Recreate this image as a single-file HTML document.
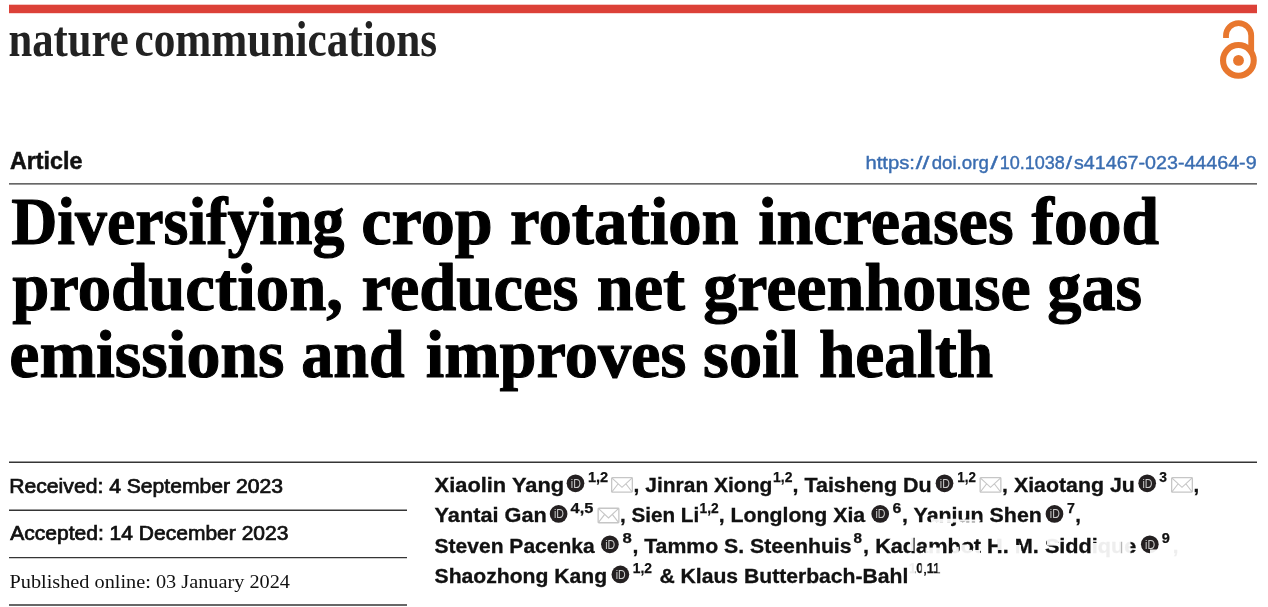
<!DOCTYPE html>
<html lang="en">
<head>
<meta charset="utf-8">
<title>Diversifying crop rotation increases food production, reduces net greenhouse gas emissions and improves soil health | Nature Communications</title>
<style>
html,body{margin:0;padding:0;background:#fff;}
body{width:1268px;height:607px;overflow:hidden;}
svg{display:block;}
.g{font-family:"Liberation Sans",sans-serif;font-size:10px;fill:#111;}
.logo{font-family:"Liberation Serif",serif;font-weight:bold;font-size:50px;fill:#222;}
.art{font-family:"Liberation Sans",sans-serif;font-weight:bold;font-size:23.5px;fill:#111;stroke:#111;stroke-width:.5;}
.doi{font-family:"Liberation Sans",sans-serif;font-size:19px;fill:#3a6db1;stroke:#3a6db1;stroke-width:.4;}
.title{font-family:"Liberation Serif",serif;font-weight:bold;font-size:68px;fill:#000;stroke:#000;stroke-width:1.1;stroke-linejoin:round;}
.meta{font-family:"Liberation Sans",sans-serif;font-size:19.3px;fill:#111;stroke:#111;stroke-width:.7;}
.pub{font-family:"Liberation Serif",serif;font-size:19px;fill:#111;}
.au{font-family:"Liberation Sans",sans-serif;font-weight:bold;font-size:20px;fill:#111;stroke:#111;stroke-width:.3;}
.sup{font-family:"Liberation Sans",sans-serif;font-weight:bold;font-size:14.5px;fill:#111;stroke:#111;stroke-width:.25;}
.rule{stroke:#353535;stroke-width:1.35;}
.id{font-family:"Liberation Sans",sans-serif;font-size:12px;fill:#cdcdcd;}
</style>
</head>
<body>
<svg width="1268" height="607" viewBox="0 0 1268 607">
<defs>
<g id="orcid"><circle cx="0" cy="0" r="8.85" fill="#242021"/><text class="id" x="-4.7" y="4.2" textLength="10" lengthAdjust="spacingAndGlyphs">iD</text></g>
<g id="env"><rect x="0.65" y="0.65" width="20.7" height="14.5" rx="0.8" fill="#fff" stroke="#c6c6c6" stroke-width="1.3"/><path d="M0.8 0.8 L11 10.3 L21.2 0.8 M0.8 15 L7 7 M21.2 15 L15 7" fill="none" stroke="#c6c6c6" stroke-width="1.15"/></g>
</defs>
<rect x="9" y="4.7" width="1248" height="8.5" fill="#dc4138"/>
<g fill="none" stroke="#e8772e">
<path d="M1226 38 V35.6 A12.6 12.6 0 0 1 1251.2 35.6 V52" stroke-width="5.8"/>
<circle cx="1238.4" cy="60.4" r="15.35" stroke-width="6.1"/>
<circle cx="1238.5" cy="60.4" r="5.4" fill="#e8772e" stroke="none"/>
</g>
<line class="rule" x1="9" y1="183.9" x2="1257" y2="183.9"/>
<line class="rule" x1="9" y1="462.2" x2="1257" y2="462.2"/>
<line class="rule" x1="9" y1="510.2" x2="407" y2="510.2"/>
<line class="rule" x1="9" y1="557.6" x2="407" y2="557.6"/>
<line class="rule" x1="9" y1="605" x2="407" y2="605"/>
<text class="g"><tspan class="logo" x="8.5" y="55.5" textLength="120.1" lengthAdjust="spacingAndGlyphs">nature</tspan> <tspan class="logo" x="134.5" y="55.5" textLength="302.7" lengthAdjust="spacingAndGlyphs">communications</tspan></text>
<text class="g"><tspan class="art" x="9.9" y="168.8" textLength="72.5" lengthAdjust="spacingAndGlyphs">Article</tspan></text>
<text class="g"><tspan class="doi" x="865.4" y="168.7" textLength="49.5" lengthAdjust="spacingAndGlyphs">https:</tspan><tspan class="doi" x="915.7" y="168.7" textLength="13.6" lengthAdjust="spacingAndGlyphs">//</tspan><tspan class="doi" x="931.7" y="168.7" textLength="57.1" lengthAdjust="spacingAndGlyphs">doi.org</tspan><tspan class="doi" x="990.4" y="168.7" textLength="7.4" lengthAdjust="spacingAndGlyphs">/</tspan><tspan class="doi" x="999.7" y="168.7" textLength="65.2" lengthAdjust="spacingAndGlyphs">10.1038</tspan><tspan class="doi" x="1065.7" y="168.7" textLength="6.4" lengthAdjust="spacingAndGlyphs">/</tspan><tspan class="doi" x="1074.0" y="168.7" textLength="182.6" lengthAdjust="spacingAndGlyphs">s41467-023-44464-9</tspan></text>
<text class="g"><tspan class="title" x="11.3" y="243.8" textLength="333.1" lengthAdjust="spacingAndGlyphs">Diversifying</tspan> <tspan class="title" x="361.3" y="243.8" textLength="131.4" lengthAdjust="spacingAndGlyphs">crop</tspan> <tspan class="title" x="510.0" y="243.8" textLength="228.7" lengthAdjust="spacingAndGlyphs">rotation</tspan> <tspan class="title" x="758.2" y="243.8" textLength="255.4" lengthAdjust="spacingAndGlyphs">increases</tspan> <tspan class="title" x="1031.5" y="243.8" textLength="127.6" lengthAdjust="spacingAndGlyphs">food</tspan> <tspan class="title" x="12.2" y="310.2" textLength="330.8" lengthAdjust="spacingAndGlyphs">production,</tspan> <tspan class="title" x="361.4" y="310.2" textLength="217.1" lengthAdjust="spacingAndGlyphs">reduces</tspan> <tspan class="title" x="596.8" y="310.2" textLength="88.3" lengthAdjust="spacingAndGlyphs">net</tspan> <tspan class="title" x="703.2" y="310.2" textLength="327.6" lengthAdjust="spacingAndGlyphs">greenhouse</tspan> <tspan class="title" x="1047.3" y="310.2" textLength="94.8" lengthAdjust="spacingAndGlyphs">gas</tspan> <tspan class="title" x="9.3" y="376.9" textLength="275.2" lengthAdjust="spacingAndGlyphs">emissions</tspan> <tspan class="title" x="301.3" y="376.9" textLength="103.3" lengthAdjust="spacingAndGlyphs">and</tspan> <tspan class="title" x="425.8" y="376.9" textLength="260.6" lengthAdjust="spacingAndGlyphs">improves</tspan> <tspan class="title" x="703.1" y="376.9" textLength="95.8" lengthAdjust="spacingAndGlyphs">soil</tspan> <tspan class="title" x="818.9" y="376.9" textLength="174.3" lengthAdjust="spacingAndGlyphs">health</tspan></text>
<text class="g"><tspan class="meta" x="9.3" y="492.6" textLength="273.7" lengthAdjust="spacingAndGlyphs">Received: 4 September 2023</tspan></text>
<text class="g"><tspan class="meta" x="10.3" y="539.5" textLength="278.1" lengthAdjust="spacingAndGlyphs">Accepted: 14 December 2023</tspan></text>
<text class="g"><tspan class="pub" x="9.5" y="587.7" textLength="280.5" lengthAdjust="spacingAndGlyphs">Published online: 03 January 2024</tspan></text>
<text class="g"><tspan class="au" x="434.6" y="491.6" textLength="129.5" lengthAdjust="spacingAndGlyphs">Xiaolin Yang</tspan><tspan class="sup" x="587.9" y="482.3" textLength="20.3" lengthAdjust="spacingAndGlyphs">1,2</tspan><tspan class="au" x="633.6" y="491.6" textLength="138.7" lengthAdjust="spacingAndGlyphs">, Jinran Xiong</tspan><tspan class="sup" x="773.0" y="482.3" textLength="19.4" lengthAdjust="spacingAndGlyphs">1,2</tspan><tspan class="au" x="792.5" y="491.6" textLength="139.2" lengthAdjust="spacingAndGlyphs">, Taisheng Du</tspan><tspan class="sup" x="957.3" y="482.3" textLength="18.6" lengthAdjust="spacingAndGlyphs">1,2</tspan><tspan class="au" x="1002.1" y="491.6" textLength="132.7" lengthAdjust="spacingAndGlyphs">, Xiaotang Ju</tspan><tspan class="sup" x="1159.2" y="482.3" textLength="7.7" lengthAdjust="spacingAndGlyphs">3</tspan><tspan class="au" x="1193.6" y="491.6" textLength="5.7" lengthAdjust="spacingAndGlyphs">,</tspan></text>
<text class="g"><tspan class="au" x="434.6" y="522.2" textLength="112.2" lengthAdjust="spacingAndGlyphs">Yantai Gan</tspan><tspan class="sup" x="570.6" y="512.9" textLength="22.7" lengthAdjust="spacingAndGlyphs">4,5</tspan><tspan class="au" x="620.0" y="522.2" textLength="79.2" lengthAdjust="spacingAndGlyphs">, Sien Li</tspan><tspan class="sup" x="699.6" y="512.9" textLength="19.2" lengthAdjust="spacingAndGlyphs">1,2</tspan><tspan class="au" x="718.7" y="522.2" textLength="146.5" lengthAdjust="spacingAndGlyphs">, Longlong Xia</tspan><tspan class="sup" x="892.4" y="512.9" textLength="8.8" lengthAdjust="spacingAndGlyphs">6</tspan><tspan class="au" x="902.1" y="522.2" textLength="139.8" lengthAdjust="spacingAndGlyphs">, Yanjun Shen</tspan><tspan class="sup" x="1067.0" y="512.9" textLength="7.9" lengthAdjust="spacingAndGlyphs">7</tspan><tspan class="au" x="1075.2" y="522.2" textLength="5.7" lengthAdjust="spacingAndGlyphs">,</tspan></text>
<text class="g"><tspan class="au" x="434.6" y="552.6" textLength="160.1" lengthAdjust="spacingAndGlyphs">Steven Pacenka</tspan><tspan class="sup" x="622.6" y="543.3" textLength="9.3" lengthAdjust="spacingAndGlyphs">8</tspan><tspan class="au" x="632.4" y="552.6" textLength="219.2" lengthAdjust="spacingAndGlyphs">, Tammo S. Steenhuis</tspan><tspan class="sup" x="853.4" y="543.3" textLength="8.5" lengthAdjust="spacingAndGlyphs">8</tspan><tspan class="au" x="863.1" y="552.6" textLength="273.3" lengthAdjust="spacingAndGlyphs">, Kadambot H. M. Siddique</tspan><tspan class="sup" x="1161.8" y="543.3" textLength="8.1" lengthAdjust="spacingAndGlyphs">9</tspan><tspan class="au" x="1172.7" y="552.6" textLength="5.7" lengthAdjust="spacingAndGlyphs">,</tspan></text>
<text class="g"><tspan class="au" x="434.6" y="582.7" textLength="172.5" lengthAdjust="spacingAndGlyphs">Shaozhong Kang</tspan><tspan class="sup" x="632.8" y="573.4" textLength="19.2" lengthAdjust="spacingAndGlyphs">1,2</tspan> <tspan class="au" x="659.4" y="582.7" textLength="249.0" lengthAdjust="spacingAndGlyphs">&amp; Klaus Butterbach-Bahl</tspan><tspan class="sup" x="909.1" y="573.4" textLength="31.3" lengthAdjust="spacingAndGlyphs">10,11</tspan></text>
<use href="#orcid" x="575.5" y="483.3"/>
<use href="#orcid" x="944.5" y="483.3"/>
<use href="#orcid" x="1147.2" y="483.3"/>
<use href="#orcid" x="558.6" y="513.9"/>
<use href="#orcid" x="880.2" y="513.9"/>
<use href="#orcid" x="1054.5" y="513.9"/>
<use href="#orcid" x="609.9" y="544.3"/>
<use href="#orcid" x="1149.8" y="544.3"/>
<use href="#orcid" x="620.4" y="574.4"/>
<use href="#env" x="611.0" y="477.0"/>
<use href="#env" x="979.5" y="477.0"/>
<use href="#env" x="1171.0" y="477.0"/>
<use href="#env" x="597.5" y="507.6"/>
<g fill="#fff" opacity="0.93">
<rect x="931" y="518.8" width="27" height="3.7" rx="1.5"/><rect x="957" y="519.6" width="23.5" height="2.2" rx="1"/>
<rect x="910" y="537" width="3.5" height="14"/><rect x="925.5" y="547.6" width="16.5" height="6.4"/><rect x="952.8" y="546.8" width="6" height="7.2"/><rect x="960" y="544.6" width="6" height="9.4"/><rect x="966" y="549.8" width="6" height="4.2"/><rect x="973" y="550" width="7" height="4"/><rect x="997.6" y="537" width="4.6" height="13"/><rect x="1015" y="545" width="6" height="9"/>
<rect x="1047" y="537" width="11" height="8.6"/><rect x="1091" y="543" width="6" height="11"/><rect x="1097" y="540" width="24.5" height="18"/><rect x="1121.5" y="540" width="9" height="14"/><rect x="1150" y="549.5" width="8.5" height="5"/><rect x="1161" y="543" width="10.5" height="3"/><rect x="1172.5" y="549" width="7" height="8"/>
<rect x="908" y="562.5" width="7.6" height="12.5"/><rect x="921.6" y="563" width="5" height="9"/><rect x="937.4" y="562.5" width="5" height="10"/>
</g>
</svg>
</body>
</html>
